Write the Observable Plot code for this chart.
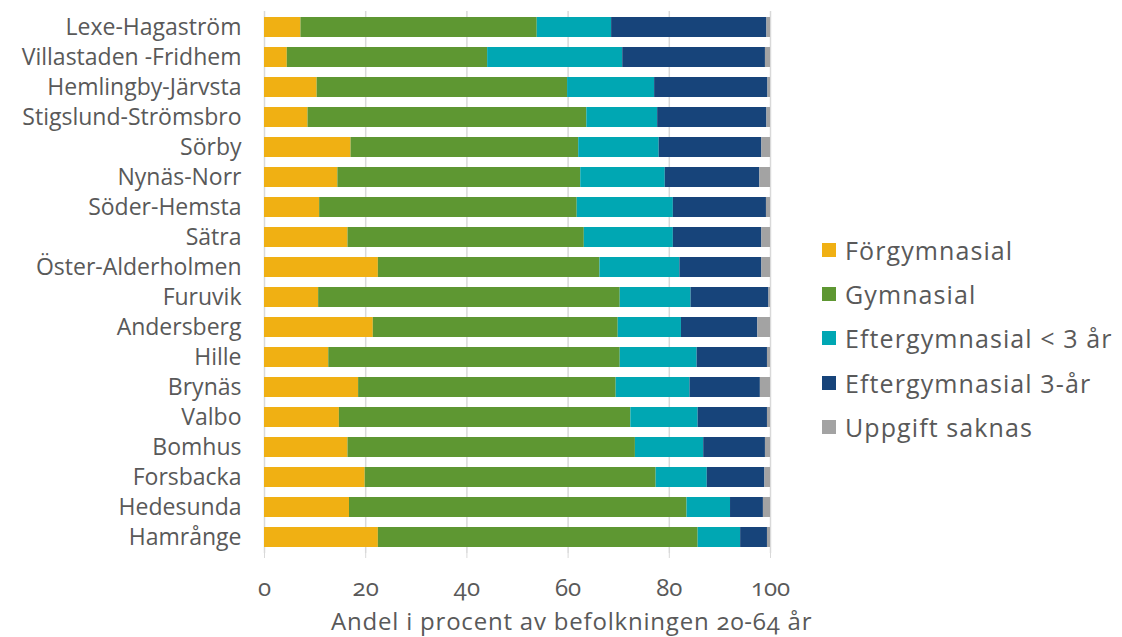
<!DOCTYPE html>
<html>
<head>
<meta charset="utf-8">
<script src="https://cdn.jsdelivr.net/npm/d3@7"></script>
<script src="https://cdn.jsdelivr.net/npm/@observablehq/plot@0.6"></script>
<style>
  html, body { margin: 0; padding: 0; background: #fff; }
  body { width: 1122px; height: 637px; position: relative; overflow: hidden;
         font-family: "Open Sans", "Noto Sans", sans-serif; }
  #chart { position: absolute; left: 0; top: 0; }
  #legend { position: absolute; left: 822px; top: 228px; }
  .item { display: flex; align-items: center; height: 44.2px; font-size: 25px; letter-spacing: 1.1px; color: #595959; }
  .sw { width: 14px; height: 14px; margin-right: 9px; flex: none; }
  #xlabel { position: absolute; left: 331px; top: 604px; font-size: 24px; letter-spacing: 0.8px; color: #595959;
            font-variant-numeric: oldstyle-nums; white-space: nowrap; }
  svg text { font-variant-numeric: oldstyle-nums; }
</style>
</head>
<body>
<div id="chart"></div>
<div id="legend"></div>
<div id="xlabel"></div>
<script>
const areas = ["Lexe-Hagaström","Villastaden -Fridhem","Hemlingby-Järvsta","Stigslund-Strömsbro","Sörby","Nynäs-Norr","Söder-Hemsta","Sätra","Öster-Alderholmen","Furuvik","Andersberg","Hille","Brynäs","Valbo","Bomhus","Forsbacka","Hedesunda","Hamrånge"];
const categories = ["Förgymnasial","Gymnasial","Eftergymnasial < 3 år","Eftergymnasial 3-år","Uppgift saknas"];
const colors = ["#F0B013","#5E9732","#00A7B3","#17447A","#A3A3A3"];
const forgymnasial = [7.2,4.5,10.4,8.6,17.1,14.5,10.9,16.5,22.5,10.7,21.5,12.7,18.6,14.8,16.5,19.9,16.8,22.5];
const gymnasial    = [46.7,39.6,49.5,55.1,45.0,48.0,50.9,46.7,43.8,59.6,48.4,57.6,50.9,57.6,56.8,57.5,66.7,63.2];
const efterKort    = [14.7,26.7,17.2,14.0,15.9,16.7,19.0,17.6,15.8,14.0,12.5,15.2,14.6,13.3,13.5,10.1,8.6,8.4];
const efterLang    = [30.7,28.2,22.4,21.6,20.3,18.7,18.4,17.5,16.2,15.4,15.1,13.9,13.9,13.7,12.2,11.4,6.5,5.3];
const saknas       = [0.7,1.0,0.5,0.7,1.7,2.1,0.8,1.7,1.7,0.3,2.5,0.6,2.0,0.6,1.0,1.1,1.4,0.6];
const xTicks = [0,20,40,60,80,100];
const xLabel = "Andel i procent av befolkningen 20-64 år";

const series = [forgymnasial, gymnasial, efterKort, efterLang, saknas];
const data = [];
areas.forEach((a, i) => categories.forEach((c, j) => data.push({area: a, cat: c, value: series[j][i]})));

const plot = Plot.plot({
  width: 800,
  height: 637,
  marginLeft: 264,
  marginRight: 30,
  marginTop: 11,
  marginBottom: 84,
  style: {fontFamily: '"Open Sans", "Noto Sans", sans-serif', color: "#595959", background: "#fff"},
  x: {domain: [0, 100]},
  y: {domain: areas, paddingInner: 0.33, paddingOuter: 0.17},
  color: {domain: categories, range: colors},
  marks: [
    Plot.gridX(xTicks, {stroke: "#d9d9d9", strokeOpacity: 1, strokeWidth: 1.5}),
    Plot.barX(data, Plot.stackX({x: "value", y: "area", fill: "cat", order: categories})),
    Plot.axisX({ticks: xTicks, tickSize: 5, tickPadding: 20, fontSize: 24, stroke: "#d9d9d9",
      label: null, fill: "#595959", style: {letterSpacing: "1.5px"}}),
    Plot.axisY({tickSize: 0, tickPadding: 23, fontSize: 23, fill: "#595959", label: null, style: {letterSpacing: "0.6px"}})
  ]
});
document.getElementById("chart").appendChild(plot);
document.getElementById("xlabel").textContent = xLabel;

const legend = document.getElementById("legend");
categories.forEach((c, j) => {
  const d = document.createElement("div");
  d.className = "item";
  d.innerHTML = `<span class="sw" style="background:${colors[j]}"></span><span></span>`;
  d.lastChild.textContent = c;
  legend.appendChild(d);
});
</script>
</body>
</html>
